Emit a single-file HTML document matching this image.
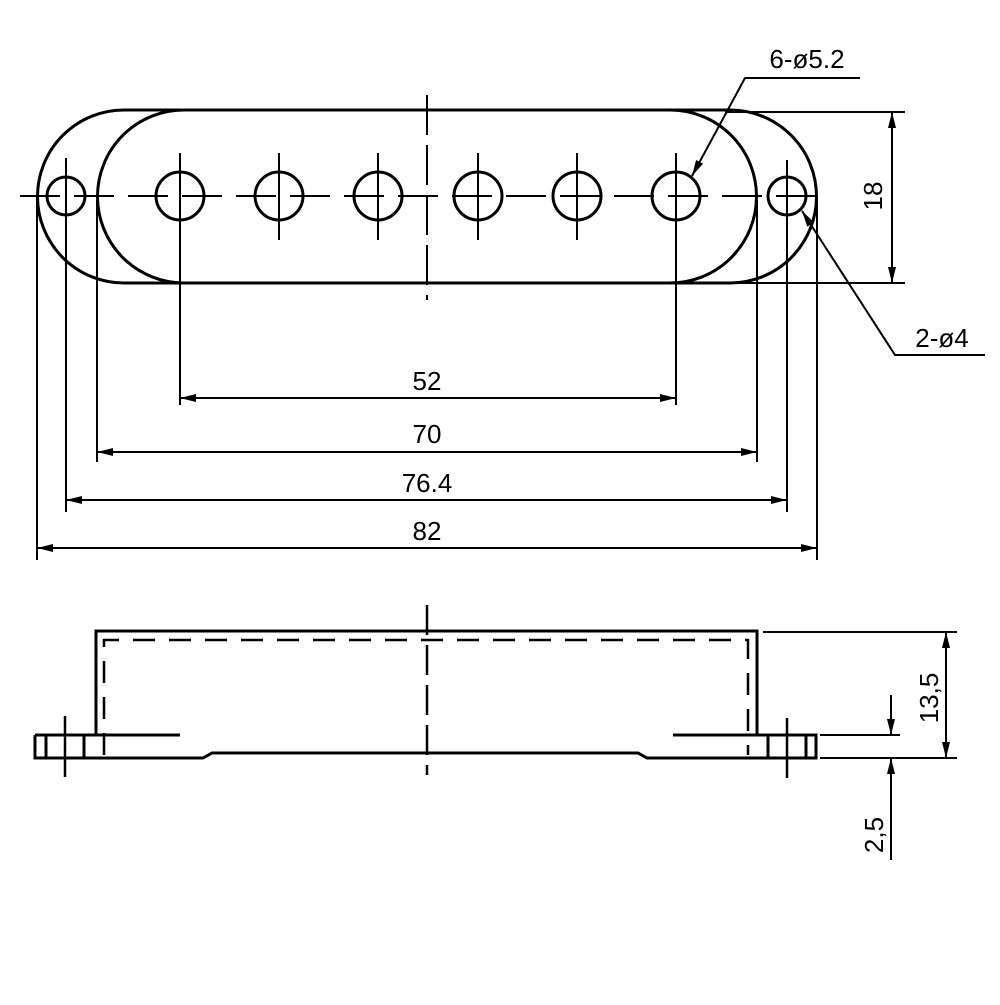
<!DOCTYPE html>
<html><head><style>body{margin:0;background:#fff}</style></head><body>
<svg width="1000" height="1000" viewBox="0 0 1000 1000" xmlns="http://www.w3.org/2000/svg" font-family="Liberation Sans, sans-serif">
<g fill="none" stroke="#000" stroke-width="3">
<path d="M124,110 H730 A86.5,86.5 0 0 1 730,283 H124 A86.5,86.5 0 0 1 124,110 Z"/>
<path d="M184,110 H670 A86.5,86.5 0 0 1 670,283 H184 A86.5,86.5 0 0 1 184,110 Z"/>
<circle cx="66" cy="196" r="19"/><circle cx="787" cy="196" r="19"/>
<circle cx="180" cy="196" r="24"/><circle cx="279" cy="196" r="24"/><circle cx="378" cy="196" r="24"/>
<circle cx="478" cy="196" r="24"/><circle cx="577" cy="196" r="24"/><circle cx="676" cy="196" r="24"/>
</g>
<g stroke="#000" stroke-width="2" fill="none">
<path d="M20,196 H830" stroke-dasharray="40,14"/>
<path d="M427,95 V300" stroke-dasharray="40,10"/>
<path d="M279,153V240M378,153V240M478,153V240M577,153V240M180,153V405M676,153V405M66,158V512M787,160V512M37,196V560M97,200V462M757,200V462M817,196V560"/>
<path d="M725,112H905M725,283H905"/>
<path d="M180,398H676M97,452H757M66,500H787M37,548H817M892,112V283"/>
<path d="M860,78H745L692,176"/>
<path d="M802,211 L895,355 H985"/>
</g>
<g fill="#000">
<polygon points="180,398 196,394 196,402"/><polygon points="676,398 660,394 660,402"/>
<polygon points="97,452 113,448 113,456"/><polygon points="757,452 741,448 741,456"/>
<polygon points="66,500 82,496 82,504"/><polygon points="787,500 771,496 771,504"/>
<polygon points="37,548 53,544 53,552"/><polygon points="817,548 801,544 801,552"/>
<polygon points="892,112 888,128 896,128"/><polygon points="892,283 888,267 896,267"/>
<polygon points="692,176 703.1,163.8 696.1,160.0"/>
<polygon points="802,211 814.1,222.2 807.3,226.6"/>
<polygon points="946,632 942,648 950,648"/><polygon points="946,758 942,742 950,742"/>
<polygon points="891,735 887,719 895,719"/><polygon points="891,758 887,774 895,774"/>
</g>
<g font-size="26" text-anchor="middle" fill="#000">
<text x="427" y="390">52</text><text x="427" y="443">70</text><text x="427" y="492">76.4</text><text x="427" y="540">82</text>
<text x="807" y="68">6-ø5.2</text><text x="942" y="347">2-ø4</text>
<text transform="translate(882,196) rotate(-90)">18</text>
<text transform="translate(938,698) rotate(-90)">13,5</text>
<text transform="translate(883,835) rotate(-90)">2,5</text>
</g>
<g fill="none" stroke="#000" stroke-width="3">
<path d="M96,735 V631 H757 V735"/>
<path d="M35,735 H180 M35,735 V758 H203 L212,753 H638 L647,758 H816 V735 H673"/>
<path d="M46,735V758M84,735V758M768,735V758M806,735V758"/>
</g>
<g fill="none" stroke="#000" stroke-width="2.5">
<path d="M104,755 V640 H748 V755" stroke-dasharray="22,14"/>
<path d="M427,605 V775" stroke-dasharray="30,10"/>
<path d="M65,716V777M787,718V778"/>
</g>
<g fill="none" stroke="#000" stroke-width="2">
<path d="M763,632H957M820,735H900M820,758H957"/>
<path d="M946,632V758"/>
<path d="M891,695V735"/>
<path d="M891,860V758"/>
</g>
</svg>
</body></html>
